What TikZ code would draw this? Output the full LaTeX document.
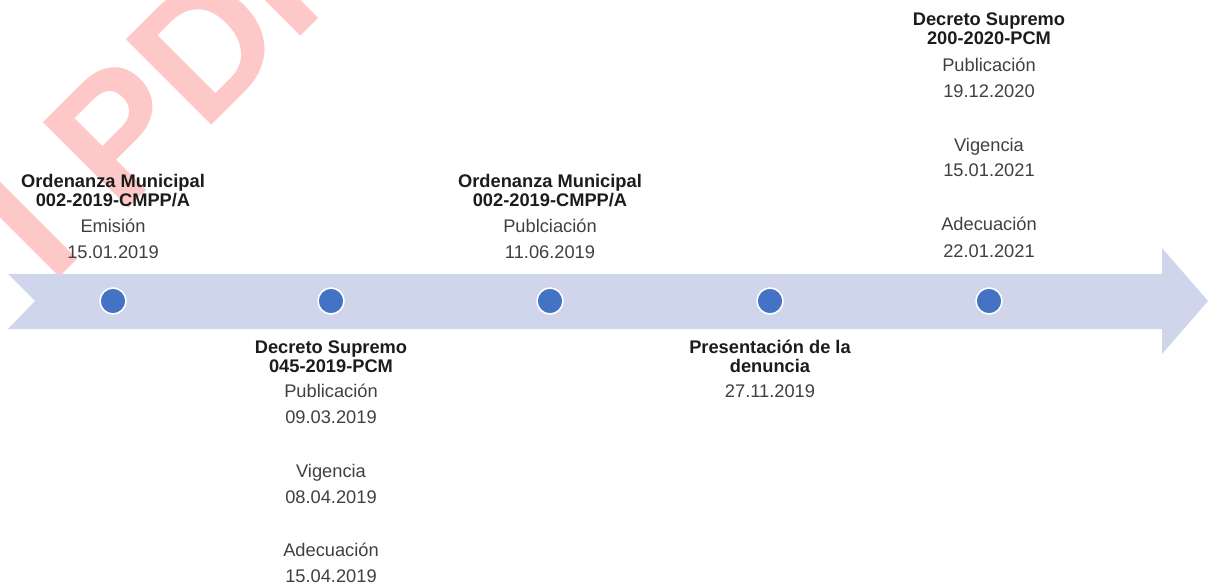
\documentclass[tikz,border=0pt]{standalone}
\usepackage{fontspec}
\setmainfont{Liberation Sans}
\usetikzlibrary{positioning}
\definecolor{bandfill}{RGB}{207,213,234}
\definecolor{dotblue}{RGB}{68,114,196}
\definecolor{titlegray}{RGB}{28,28,28}
\definecolor{bodygray}{RGB}{64,64,64}
\definecolor{markpink}{RGB}{255,200,200}
\newcommand{\evstrut}{\rule{0pt}{9pt}}
\newcommand{\evtitle}[1]{{\bfseries\color{titlegray}#1}}

\begin{document}
\begin{tikzpicture}[x=0.02cm,y=-0.02cm]
\tikzset{
  band/.style={fill=bandfill,draw=none},
  eventdot/.style={circle,fill=dotblue,draw=white,line width=0.9pt,minimum size=5.2mm,inner sep=0pt},
  eventtext/.style={anchor=north,align=center,inner sep=0pt,text=bodygray,font=\fontsize{10.4}{11}\selectfont},
  watermark/.style={anchor=base west,inner sep=0pt,rotate=45,text=markpink,font=\fontsize{100}{100}\selectfont\bfseries}
}
\useasboundingbox (0,0) rectangle (1209,587);
\clip (0,0) rectangle (1209,587);
\node[watermark] (n_mark) at (51,286) {I PDP};
\path[band] (8,274) -- (1162,274) -- (1162,248) -- (1208,301) -- (1162,354) -- (1162,329) -- (8,329) -- (35,301) -- cycle;
\node[eventdot] (n_d1) at (113,301) {};
\node[eventdot] (n_d2) at (331,301) {};
\node[eventdot] (n_d3) at (550,301) {};
\node[eventdot] (n_d4) at (770,301) {};
\node[eventdot] (n_d5) at (989,301) {};
\node[eventtext] (n_e1) at (113,171) {\evstrut\evtitle{Ordenanza Municipal}\\\evtitle{002-2019-CMPP/A}\\[3.8pt]
  Emisión\\[3.7pt]15.01.2019};
\node[eventtext] (n_e2) at (331,337) {\evstrut\evtitle{Decreto Supremo}\\\evtitle{045-2019-PCM}\\[3.4pt]
  Publicación\\[3.7pt]09.03.2019\\[19.6pt]Vigencia\\[3.7pt]08.04.2019\\[19.6pt]Adecuación\\[3.7pt]15.04.2019};
\node[eventtext] (n_e3) at (550,171) {\evstrut\evtitle{Ordenanza Municipal}\\\evtitle{002-2019-CMPP/A}\\[3.8pt]
  Publciación\\[3.7pt]11.06.2019};
\node[eventtext] (n_e4) at (770,337) {\evstrut\evtitle{Presentación de la}\\\evtitle{denuncia}\\[3.4pt]
  27.11.2019};
\node[eventtext] (n_e5) at (989,9) {\evstrut\evtitle{Decreto Supremo}\\\evtitle{200-2020-PCM}\\[4.6pt]
  Publicación\\[3.7pt]19.12.2020\\[19.6pt]Vigencia\\[3.2pt]15.01.2021\\[20pt]Adecuación\\[4pt]22.01.2021};
\end{tikzpicture}
\end{document}
